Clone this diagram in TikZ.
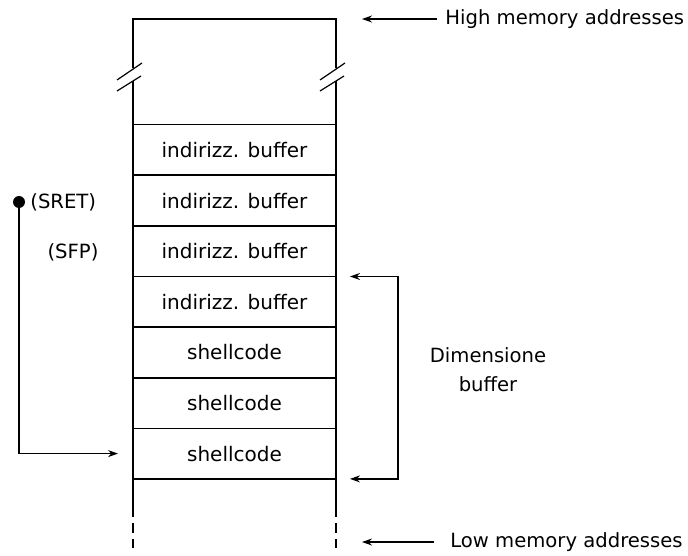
\documentclass[tikz,border=0pt]{standalone}
\usepackage{fontspec}
\setmainfont{DejaVu Sans}
\usetikzlibrary{arrows.meta,positioning}

\begin{document}
\begin{tikzpicture}[
    x=0.5pt, y=-0.5pt,
    node distance=0pt,
    every node/.style={align=center},
    cell/.style={rectangle, draw, line width=0.8pt, minimum width=101.5pt, minimum height=25.3pt, inner sep=0pt, outer sep=0pt, font=\fontsize{10}{12}\selectfont},
    tag/.style={inner sep=0pt, font=\fontsize{9.8}{14.5}\selectfont},
    wall/.style={line width=0.8pt},
    breakmark/.style={line width=0.6pt},
    arrow/.style={line width=0.6pt, -{Stealth[length=5pt,width=3.5pt]}}
]
\useasboundingbox (0,0) rectangle (688,555);

% Stack cells
\node[cell] at (234.5,150) (buf1) {indirizz. buffer};
\node[cell, below=of buf1] (buf2) {indirizz. buffer};
\node[cell, below=of buf2] (buf3) {indirizz. buffer};
\node[cell, below=of buf3] (buf4) {indirizz. buffer};
\node[cell, below=of buf4] (code1) {shellcode};
\node[cell, below=of code1] (code2) {shellcode};
\node[cell, below=of code2] (code3) {shellcode};

% Top of the stack, with break marks
\draw[wall] (buf1.north west) -- (133,81);
\draw[wall] (133,68) -- (133,19) -- (336,19) -- (336,68);
\draw[wall] (336,81) -- (buf1.north east);
\foreach \x in {133,336} {
  \draw[breakmark] (\x-16,80) -- (\x+9,63);
  \draw[breakmark] (\x-16,91) -- (\x+8,76);
}

% Bottom of the stack
\draw[wall] (code3.south west) -- ++(0,28) coordinate (lowl);
\draw[wall] (code3.south east) -- ++(0,28) coordinate (lowr);
\draw[wall, dashed, dash pattern=on 5pt off 3pt] (lowl) -- ++(0,41);
\draw[wall, dashed, dash pattern=on 5pt off 3pt] (lowr) -- ++(0,41);

% Labels on the right
\node[tag, anchor=west] (high) at (445,19) {High memory addresses};
\node[tag, anchor=west] (low) at (450,542) {Low memory addresses};
\coordinate (hightip) at (362,19);
\coordinate (lowtip) at (362,542);
\draw[arrow] (high.west) ++(-4pt,0) -- (hightip);
\draw[arrow] (low.west) ++(-8pt,0) -- (lowtip);

% Saved registers
\node[circle, fill, inner sep=0pt, minimum size=6pt] (dot) at (19,202) {};
\node[tag, anchor=west] (sret) at (30,202) {(SRET)};
\node[tag] (sfp) at (73,252) {(SFP)};
\draw[arrow] (dot) |- ([xshift=-7.5pt]code3.west);

% Buffer size
\coordinate (dimtop) at ([xshift=7pt]buf4.north east);
\coordinate (dimbot) at ([xshift=7pt]code3.south east);
\draw[arrow, {Stealth[length=5pt,width=3.5pt]}-{Stealth[length=5pt,width=3.5pt]}] (dimtop) -- ++(24pt,0) |- (dimbot);
\node[tag] (dim) at (488,370) {Dimensione\\buffer};

\end{tikzpicture}
\end{document}
